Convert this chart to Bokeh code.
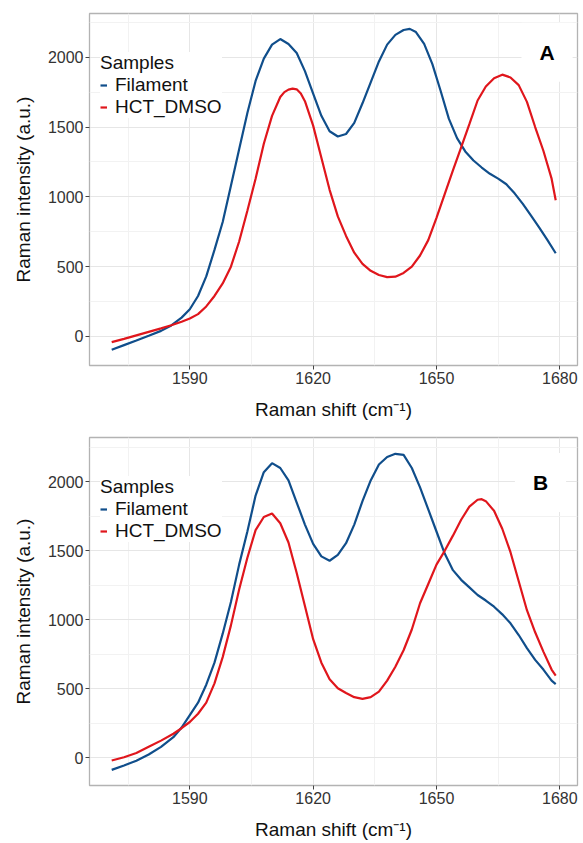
from bokeh.plotting import figure
from bokeh.models import Range1d, FixedTicker, Legend, LegendItem, Label
from bokeh.layouts import column
from bokeh.embed import file_html
from bokeh.resources import INLINE

# ---------------- data ----------------
series_names = ["Filament", "HCT_DMSO"]
panel_tags = ["A", "B"]

x_major = [1590, 1620, 1650, 1680]
x_minor = [1575, 1605, 1635, 1665]
y_major = [0, 500, 1000, 1500, 2000]
y_minor = [250, 750, 1250, 1750, 2250]

# Panel A - Filament
a_fil_x = [1571, 1574, 1577, 1580, 1583, 1585.5, 1588, 1590, 1592, 1594, 1596, 1598, 1600, 1602,
           1604, 1606, 1608, 1610, 1612, 1614, 1616, 1618, 1620, 1622, 1624, 1626, 1628, 1630,
           1632, 1634, 1636, 1638, 1640, 1642, 1643.5, 1645, 1647, 1649, 1651, 1653, 1655, 1657,
           1659, 1661, 1663, 1665, 1667, 1669, 1671, 1673, 1675, 1677, 1679]
a_fil_y = [-95, -62, -29, 5, 40, 79, 135, 195, 290, 430, 620, 820, 1080, 1340,
           1600, 1830, 1990, 2090, 2130, 2095, 2030, 1900, 1740, 1580, 1470, 1432, 1450, 1530,
           1670, 1820, 1970, 2090, 2160, 2195, 2203, 2180, 2095, 1950, 1760, 1560, 1420, 1325,
           1260, 1210, 1165, 1130, 1090, 1025, 950, 865, 780, 690, 596]

# Panel A - HCT_DMSO
a_hct_x = [1571, 1574, 1577, 1580, 1583, 1585.5, 1588, 1590, 1592, 1594, 1596, 1598, 1600, 1602,
           1604, 1606, 1608, 1610, 1612, 1613, 1614, 1615, 1616, 1617, 1618, 1620, 1622, 1624,
           1626, 1628, 1630, 1632, 1634, 1636, 1638, 1640, 1642, 1644, 1646, 1648, 1650, 1652,
           1654, 1656, 1658, 1660, 1662, 1664, 1666, 1668, 1670, 1672, 1674, 1676, 1678, 1679]
a_hct_y = [-41, -17, 8, 33, 58, 80, 105, 128, 160, 215, 290, 380, 500, 680,
           900, 1130, 1380, 1580, 1715, 1750, 1768, 1775, 1770, 1740, 1685, 1510, 1280, 1050,
           860, 720, 600, 520, 470, 440, 425, 428, 455, 500, 580, 690, 850, 1020,
           1190, 1355, 1520, 1690, 1790, 1850, 1875, 1855, 1800, 1680, 1500, 1330, 1130, 975]

# Panel B - Filament
b_fil_x = [1571, 1574, 1577, 1580, 1583, 1586, 1588, 1590, 1592, 1594, 1596, 1598, 1600, 1602,
           1604, 1606, 1608, 1610, 1612, 1614, 1616, 1618, 1620, 1622, 1624, 1626, 1628, 1630,
           1632, 1634, 1636, 1638, 1640, 1642, 1644, 1646, 1648, 1650, 1652, 1654, 1656, 1658,
           1660, 1662, 1664, 1666, 1668, 1670, 1672, 1674, 1676, 1678, 1679]
b_fil_y = [-87, -55, -20, 25, 80, 150, 220, 310, 400, 530, 690, 900, 1130, 1400,
           1640, 1900, 2070, 2135, 2100, 2010, 1850, 1690, 1550, 1460, 1428, 1470, 1555, 1690,
           1860, 2010, 2125, 2180, 2203, 2195, 2100, 1960, 1800, 1640, 1480, 1360, 1290, 1235,
           1180, 1140, 1095, 1040, 975, 890, 795, 710, 640, 560, 535]

# Panel B - HCT_DMSO
b_hct_x = [1571, 1574, 1577, 1580, 1583, 1586, 1588, 1590, 1592, 1594, 1596, 1598, 1600, 1602,
           1604, 1606, 1608, 1610, 1612, 1614, 1616, 1618, 1620, 1622, 1624, 1626, 1628, 1630,
           1632, 1634, 1636, 1638, 1640, 1642, 1644, 1646, 1648, 1650, 1652, 1654, 1656, 1658,
           1660, 1661, 1662, 1664, 1666, 1668, 1670, 1672, 1674, 1676, 1678, 1679]
b_hct_y = [-19, 5, 35, 80, 125, 175, 215, 260, 320, 400, 540, 730, 960, 1220,
           1450, 1650, 1745, 1770, 1700, 1560, 1340, 1100, 860, 690, 570, 505, 470, 440,
           428, 440, 480, 560, 660, 780, 930, 1120, 1260, 1400, 1500, 1610, 1725, 1820,
           1870, 1874, 1860, 1790, 1660, 1490, 1280, 1070, 910, 770, 640, 596]

# ---------------- style ----------------
FONT = "Liberation Sans"
BLUE = "#104E8B"
RED = "#E0161C"


def make_panel(tag, fx, fy, hx, hy, height, ylo, yhi, ml, mr, mt, mb, tag_xy, legend_loc):
    p = figure(width=583, height=height,
               x_range=Range1d(1565.6, 1684.3), y_range=Range1d(ylo, yhi),
               output_backend="svg", toolbar_location=None,
               min_border_left=ml, min_border_right=mr,
               min_border_top=mt, min_border_bottom=mb)
    p.background_fill_color = "white"
    p.border_fill_color = "white"
    p.outline_line_color = "#b3b3b3"
    p.outline_line_width = 1.3

    for ax in (p.xaxis, p.yaxis):
        ax.axis_line_color = None
        ax.major_tick_line_color = "#444444"
        ax.major_tick_out = 4
        ax.major_tick_in = 0
        ax.minor_tick_line_color = None
        ax.major_label_text_font = FONT
        ax.major_label_text_font_size = "16px"
        ax.major_label_text_color = "#333333"
        ax.major_label_standoff = 2
        ax.axis_label_text_font = FONT
        ax.axis_label_text_font_size = "19px"
        ax.axis_label_text_font_style = "normal"
        ax.axis_label_text_color = "#111111"

    p.xaxis.ticker = FixedTicker(ticks=x_major, minor_ticks=x_minor)
    p.yaxis.ticker = FixedTicker(ticks=y_major, minor_ticks=y_minor)
    p.xaxis.axis_label = "Raman shift (cm\u207b\u00b9)"
    p.yaxis.axis_label = "Raman intensity (a.u.)"
    p.xaxis.axis_label_standoff = 12
    p.yaxis.axis_label_standoff = 11

    for g in (p.xgrid, p.ygrid):
        g.grid_line_color = "#e6e6e6"
        g.grid_line_width = 1
        g.minor_grid_line_color = "#f2f2f2"
        g.minor_grid_line_width = 1

    r1 = p.line(fx, fy, line_color=BLUE, line_width=2.2)
    r2 = p.line(hx, hy, line_color=RED, line_width=2.2)

    legend = Legend(items=[LegendItem(label=series_names[0], renderers=[r1]),
                           LegendItem(label=series_names[1], renderers=[r2])],
                    location=legend_loc, title="Samples")
    legend.title_text_font = FONT
    legend.title_text_font_size = "19px"
    legend.title_text_font_style = "normal"
    legend.title_text_color = "#111111"
    legend.title_standoff = 0
    legend.label_text_font = FONT
    legend.label_text_font_size = "19px"
    legend.label_text_color = "#111111"
    legend.glyph_width = 7
    legend.glyph_height = 18
    legend.label_height = 18
    legend.label_standoff = 8
    legend.spacing = -4
    legend.padding = 4
    legend.margin = 0
    legend.border_line_color = None
    legend.background_fill_color = "white"
    legend.background_fill_alpha = 1.0
    p.add_layout(legend)

    lab = Label(x=tag_xy[0], y=tag_xy[1], text=tag, text_font=FONT,
                text_font_size="21px", text_font_style="bold", text_color="black",
                text_align="center", text_baseline="middle",
                background_fill_color="white", background_fill_alpha=1.0,
                padding=18)
    p.add_layout(lab)
    return p


pA = make_panel(panel_tags[0], a_fil_x, a_fil_y, a_hct_x, a_hct_y,
                height=425, ylo=-208, yhi=2313, ml=86, mr=2, mt=13, mb=60,
                tag_xy=(1676.9, 2035), legend_loc=(11, 247))
pB = make_panel(panel_tags[1], b_fil_x, b_fil_y, b_hct_x, b_hct_y,
                height=418, ylo=-200, yhi=2321, ml=89, mr=6, mt=12, mb=58,
                tag_xy=(1675.3, 1995), legend_loc=(11, 243))

layout = column(pA, pB, spacing=0)
open("out.html", "w").write(file_html(layout, INLINE))
